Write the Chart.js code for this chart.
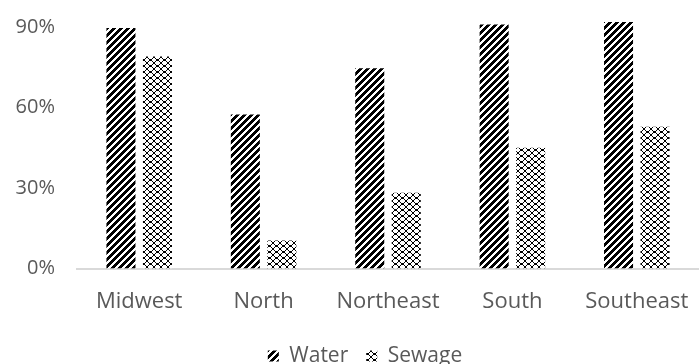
<!DOCTYPE html>
<html>
<head>
<meta charset="utf-8">
<script src="https://cdn.jsdelivr.net/npm/chart.js@4/dist/chart.umd.min.js"></script>
<style>
  html, body { margin: 0; padding: 0; background: #fff; }
  #wrap { width: 699px; height: 364px; position: relative; }
</style>
</head>
<body>
<div id="wrap"><canvas id="chart"></canvas></div>
<script>
// Share of households served, by region (%)
const categories = ['Midwest', 'North', 'Northeast', 'South', 'Southeast'];
const waterValues = [89.6, 57.4, 74.6, 90.9, 91.8];
const sewageValues = [79.0, 10.4, 28.2, 45.0, 52.8];
const tickValues = [0, 30, 60, 90];

// Build a repeating fill pattern from a small pixel map
function pixelPattern(rows) {
  const c = document.createElement('canvas');
  c.width = rows[0].length;
  c.height = rows.length;
  const g = c.getContext('2d');
  g.fillStyle = '#ffffff';
  g.fillRect(0, 0, c.width, c.height);
  g.fillStyle = '#000000';
  rows.forEach((r, y) => {
    for (let x = 0; x < r.length; x++) if (r[x] === 'X') g.fillRect(x, y, 1, 1);
  });
  return g.createPattern(c, 'repeat');
}

// Wide upward diagonal stripes
const stripeRows = [];
for (let y = 0; y < 7; y++) {
  let s = '';
  for (let x = 0; x < 7; x++) s += ((x + y) % 7) < 4 ? 'X' : '.';
  stripeRows.push(s);
}
const waterFill = pixelPattern(stripeRows);

// Chain of small rings
const sewageFill = pixelPattern([
  '..XXX..',
  '.X...X.',
  'X.....X',
  'X.....X',
  '.X...X.',
  '..XXX..'
]);

const grey = '#595959';
const BELOW_AXIS = 95.5;   // space under the plot for labels and legend

// Places the legend row at a fixed centre point below the axis labels
const legendPlacer = {
  id: 'legendPlacer',
  beforeDraw(chart, args, opts) {
    const lg = chart.legend;
    if (!lg) return;
    const w = lg.right - lg.left;
    const h = lg.height;
    lg.left = opts.cx - w / 2;
    lg.right = lg.left + w;
    lg.top = opts.cy - h / 2;
    lg.bottom = lg.top + h;
  }
};

function noEdgePadding(s) {
  s.paddingTop = 0; s.paddingBottom = 0; s.paddingLeft = 0; s.paddingRight = 0;
}

new Chart(document.getElementById('chart'), {
  type: 'bar',
  plugins: [legendPlacer],
  data: {
    labels: categories,
    datasets: [
      { label: 'Water', data: waterValues, backgroundColor: waterFill, borderWidth: 0,
        categoryPercentage: 0.587, barPercentage: 0.795 },
      { label: 'Sewage', data: sewageValues, backgroundColor: sewageFill, borderWidth: 0,
        categoryPercentage: 0.587, barPercentage: 0.795 }
    ]
  },
  options: {
    responsive: true,
    maintainAspectRatio: false,
    animation: false,
    layout: { autoPadding: false, padding: 0 },
    plugins: {
      tooltip: { enabled: false },
      legendPlacer: { cx: 365, cy: 352 },
      legend: {
        position: 'bottom',
        labels: {
          color: grey,
          font: { family: '"Open Sans", sans-serif', size: 21 },
          boxWidth: 11,
          boxHeight: 11,
          padding: 18
        }
      }
    },
    scales: {
      x: {
        afterFit: (s) => {
          const lg = s.chart.legend;
          s.height = BELOW_AXIS - (lg ? lg.height : 0);
          noEdgePadding(s);
        },
        grid: { display: false, drawTicks: false },
        border: { display: true, color: '#d9d9d9', width: 2 },
        ticks: { color: grey, font: { family: '"Open Sans", sans-serif', size: 22 }, padding: 20 }
      },
      y: {
        min: 0,
        max: 100,
        afterBuildTicks: (s) => { s.ticks = tickValues.map(v => ({ value: v })); },
        afterFit: (s) => { s.width = 77; noEdgePadding(s); },
        grid: { display: false, drawTicks: false },
        border: { display: false },
        ticks: { color: grey, font: { family: '"Open Sans", sans-serif', size: 20 }, padding: 22,
                 callback: (v) => v + '%' }
      }
    }
  }
});
</script>
</body>
</html>
